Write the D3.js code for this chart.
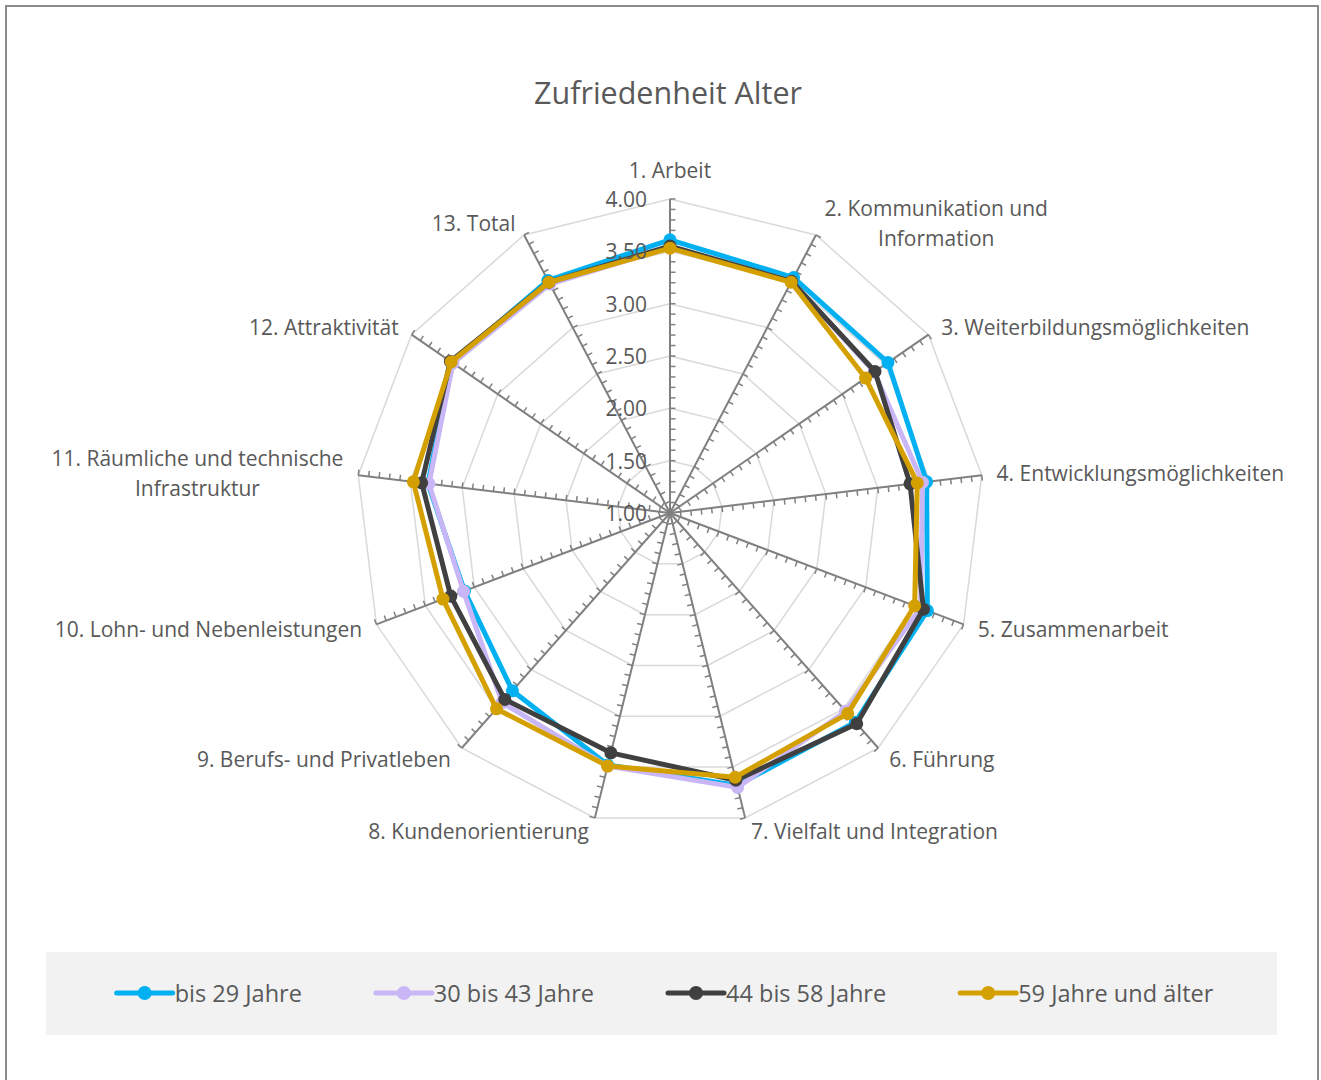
<!DOCTYPE html>
<html>
<head>
<meta charset="utf-8">
<script src="https://cdn.jsdelivr.net/npm/d3@7"></script>
<style>
  html, body { margin: 0; padding: 0; background: #fff; }
  svg { display: block; font-family: "Open Sans", "Noto Sans", sans-serif; }
</style>
</head>
<body>
<svg id="chart" width="1321" height="1080"></svg>
<script>
// Kategorien (Achsen), "\n" = Zeilenumbruch in der Beschriftung
const categories = [
  "1. Arbeit",
  "2. Kommunikation und\nInformation",
  "3. Weiterbildungsmöglichkeiten",
  "4. Entwicklungsmöglichkeiten",
  "5. Zusammenarbeit",
  "6. Führung",
  "7. Vielfalt und Integration",
  "8. Kundenorientierung",
  "9. Berufs- und Privatleben",
  "10. Lohn- und Nebenleistungen",
  "11. Räumliche und technische\nInfrastruktur",
  "12. Attraktivität",
  "13. Total"
];

const seriesNames = ["bis 29 Jahre", "30 bis 43 Jahre", "44 bis 58 Jahre", "59 Jahre und älter"];

const bis29 = [3.61, 3.54, 3.53, 3.47, 3.63, 3.67, 3.68, 3.48, 3.27, 3.10, 3.33, 3.53, 3.51];
const bis43 = [3.54, 3.50, 3.37, 3.43, 3.56, 3.53, 3.70, 3.49, 3.42, 3.11, 3.32, 3.52, 3.47];
const bis58 = [3.55, 3.50, 3.38, 3.31, 3.59, 3.69, 3.63, 3.36, 3.38, 3.24, 3.39, 3.55, 3.49];
const ab59  = [3.53, 3.49, 3.27, 3.38, 3.50, 3.56, 3.60, 3.49, 3.50, 3.32, 3.47, 3.54, 3.49];

const gridValues = [1.5, 2, 2.5, 3, 3.5, 4];
const tickLabelValues = [1, 1.5, 2, 2.5, 3, 3.5, 4];

const colors = ["#00b0f0", "#c9b6f6", "#404040", "#d4a000"];
const series = [bis29, bis43, bis58, ab59];

const svg = d3.select("#chart");
const cx = 670, cy = 513, R = 314;
const textColor = "#595959";
const labelSize = 21;

// Rahmen
svg.append("rect")
  .attr("x", 6).attr("y", 6)
  .attr("width", 1312).attr("height", 1090)
  .attr("fill", "#fff")
  .attr("stroke", "#8c8c8c")
  .attr("stroke-width", 2);

// Titel
svg.append("text")
  .attr("x", 668).attr("y", 92)
  .attr("text-anchor", "middle")
  .attr("dominant-baseline", "central")
  .attr("font-size", 30.5)
  .attr("fill", textColor)
  .text("Zufriedenheit Alter");

// Skalen
const r = d3.scaleLinear().domain([1, 4]).range([0, R]);
const angle = d3.scaleLinear().domain([0, categories.length]).range([0, 2 * Math.PI]);

const px = (i, v) => cx + r(v) * Math.sin(angle(i));
const py = (i, v) => cy - r(v) * Math.cos(angle(i));

const g = svg.append("g");

// Gitternetz
const idx = d3.range(categories.length);
g.selectAll(".grid")
  .data(gridValues)
  .join("path")
  .attr("class", "grid")
  .attr("fill", "none")
  .attr("stroke", "#d9d9d9")
  .attr("stroke-width", 1.5)
  .attr("d", v => d3.line()(idx.map(i => [px(i, v), py(i, v)])) + "Z");

// Achsen
g.selectAll(".axis")
  .data(idx)
  .join("line")
  .attr("class", "axis")
  .attr("x1", cx).attr("y1", cy)
  .attr("x2", i => px(i, 4)).attr("y2", i => py(i, 4))
  .attr("stroke", "#808080")
  .attr("stroke-width", 2);

// Teilstriche alle 0.1, auf der Seite im Uhrzeigersinn
const minorTicks = r.ticks(30).filter(v => v > 1);
const tickLen = 5.5;
idx.forEach(i => {
  const a = angle(i);
  const nx = Math.cos(a), ny = Math.sin(a);
  g.append("g").selectAll("line")
    .data(minorTicks)
    .join("line")
    .attr("x1", v => px(i, v)).attr("y1", v => py(i, v))
    .attr("x2", v => px(i, v) + nx * tickLen).attr("y2", v => py(i, v) + ny * tickLen)
    .attr("stroke", "#808080")
    .attr("stroke-width", 1.5);
});

// Kategorie-Beschriftungen
const lineH = 30;
categories.forEach((label, i) => {
  const a = angle(i);
  const s = Math.sin(a), c = Math.cos(a);
  const ex = px(i, 4), ey = py(i, 4);
  const lines = label.split("\n");
  let anchor = "middle";
  if (s > 0.05) anchor = "start";
  if (s < -0.05) anchor = "end";
  const x = ex + Math.sign(Math.round(s * 20)) * (3 + 12 * Math.abs(s));
  let yc = ey - c * 14;
  if (anchor === "middle") yc += c > 0 ? -15 : 15;

  const t = svg.append("g");
  const texts = t.selectAll("text")
    .data(lines)
    .join("text")
    .attr("y", (d, k) => yc + (k - (lines.length - 1) / 2) * lineH)
    .attr("dominant-baseline", "central")
    .attr("text-anchor", "middle")
    .attr("font-size", labelSize)
    .attr("fill", textColor)
    .text(d => d);
  const maxW = d3.max(texts.nodes(), n => n.getComputedTextLength());
  let mx = x;
  if (anchor === "start") mx = x + maxW / 2;
  if (anchor === "end") mx = x - maxW / 2;
  texts.attr("x", mx);
});

// Datenreihen
const radarLine = d3.lineRadial()
  .angle((d, i) => angle(i))
  .radius(d => r(d))
  .curve(d3.curveLinearClosed);

const sg = svg.append("g").attr("transform", `translate(${cx},${cy})`);
series.forEach((vals, k) => {
  sg.append("path")
    .attr("d", radarLine(vals))
    .attr("fill", "none")
    .attr("stroke", colors[k])
    .attr("stroke-width", 5)
    .attr("stroke-linejoin", "round");
  sg.append("g").selectAll("circle")
    .data(vals)
    .join("circle")
    .attr("cx", (d, i) => r(d) * Math.sin(angle(i)))
    .attr("cy", (d, i) => -r(d) * Math.cos(angle(i)))
    .attr("r", 6.5)
    .attr("fill", colors[k]);
});

// Werte-Beschriftung an Achse 1 (über den Reihen)
svg.append("g").selectAll(".tlabel")
  .data(tickLabelValues)
  .join("text")
  .attr("class", "tlabel")
  .attr("x", cx - 23)
  .attr("y", v => cy - r(v))
  .attr("text-anchor", "end")
  .attr("dominant-baseline", "central")
  .attr("font-size", labelSize)
  .attr("fill", textColor)
  .text(d3.format(".2f"));

// Legende
svg.append("rect")
  .attr("x", 46).attr("y", 952)
  .attr("width", 1231).attr("height", 83)
  .attr("fill", "#f2f2f2");

const legendY = 993, sampleW = 60, itemGap = 72;
const lg = svg.append("g");
const items = seriesNames.map((name, k) => {
  const it = lg.append("g");
  it.append("line")
    .attr("x1", 2).attr("x2", sampleW - 2)
    .attr("y1", legendY).attr("y2", legendY)
    .attr("stroke", colors[k])
    .attr("stroke-width", 5)
    .attr("stroke-linecap", "round");
  it.append("circle")
    .attr("cx", sampleW / 2).attr("cy", legendY)
    .attr("r", 7)
    .attr("fill", colors[k]);
  const tx = it.append("text")
    .attr("x", sampleW)
    .attr("y", legendY)
    .attr("dominant-baseline", "central")
    .attr("font-size", 23.5)
    .attr("fill", textColor)
    .text(name);
  return { it, w: sampleW + tx.node().getComputedTextLength() };
});
const total = d3.sum(items, d => d.w) + itemGap * (items.length - 1);
let lx = 664 - total / 2;
items.forEach(d => {
  d.it.attr("transform", `translate(${lx},0)`);
  lx += d.w + itemGap;
});
</script>
</body>
</html>
